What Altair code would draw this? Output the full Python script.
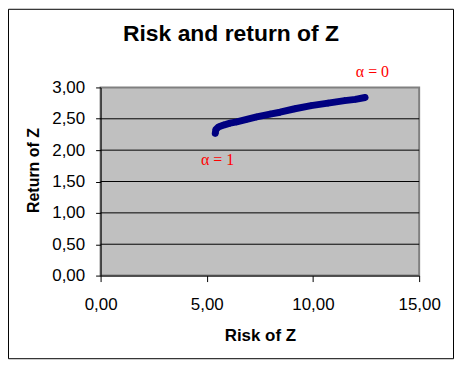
import altair as alt
import pandas as pd

# Curve: risk (x) and return (y) of Z
risk = [5.40, 5.43, 5.55, 5.79, 6.10, 6.41, 6.88, 7.35, 7.98, 8.45, 9.15, 9.91, 10.71, 11.49, 12.00, 12.45]
ret = [2.27, 2.33, 2.37, 2.40, 2.43, 2.45, 2.49, 2.53, 2.575, 2.605, 2.66, 2.71, 2.75, 2.79, 2.81, 2.84]

x_ticks = [0, 5, 10, 15]
y_ticks = [0, 0.5, 1.0, 1.5, 2.0, 2.5, 3.0]
grid_vals = [0.5, 1.0, 1.5, 2.0, 2.5]

ann_text = ["\u03b1 = 0", "\u03b1 = 1"]
ann_x = [12.8, 5.51]
ann_y = [3.24, 1.84]

df = pd.DataFrame({"risk": risk, "ret": ret})
grid_df = pd.DataFrame({"ret": grid_vals})
ann_df = pd.DataFrame({"t": ann_text, "risk": ann_x, "ret": ann_y})

label_expr = "replace(format(datum.value, '.2f'), '.', ',')"

xscale = alt.Scale(domain=[0, 15], nice=False, zero=False)
yscale = alt.Scale(domain=[0, 3], nice=False, zero=False)

xaxis = alt.Axis(values=x_ticks, labelExpr=label_expr, title="Risk of Z", grid=False,
                 tickSize=6, labelPadding=15, titleY=60, titleBaseline="middle",
                 titleFontSize=17, labelOverlap=False, labelFlush=False)
yaxis = alt.Axis(values=y_ticks, labelExpr=label_expr, title="Return of Z", grid=False,
                 tickSize=5, labelPadding=11, titleAngle=270, titleX=-67, titleY=83,
                 titleBaseline="middle", titleAlign="center", titleFontSize=16,
                 labelOverlap=False, labelFlush=False)

X = alt.X("risk:Q", scale=xscale, axis=xaxis)
Y = alt.Y("ret:Q", scale=yscale, axis=yaxis)

grid = alt.Chart(grid_df).mark_rule(color="black", strokeWidth=1).encode(y=Y)

line = alt.Chart(df).mark_line(color="#000080", strokeWidth=7, strokeCap="round",
                               strokeJoin="round").encode(x=X, y=Y)

pts = alt.Chart(df).mark_point(shape="diamond", filled=True, color="#000080", size=50,
                               opacity=1).encode(x=X, y=Y)

ann = alt.Chart(ann_df).mark_text(color="#FF0000", font="Liberation Serif", fontSize=16,
                                  baseline="middle", align="center").encode(
    x=X, y=Y, text="t:N",
)

title = alt.Chart(alt.Data(values=[{"t": "Risk and return of Z"}])).mark_text(
    font="Liberation Sans", fontSize=23, fontWeight="bold", color="black",
    baseline="middle", align="center"
).encode(x=alt.value(131), y=alt.value(-54), text="t:N")

border = alt.Chart(alt.Data(values=[{"a": 1}])).mark_rect(
    filled=False, stroke="black", strokeWidth=1
).encode(x=alt.value(-92.5), x2=alt.value(354.5), y=alt.value(-78.5), y2=alt.value(272.5))

chart = alt.layer(grid, line, pts, ann, title, border).properties(
    width=320, height=189,
    autosize=alt.AutoSizeParams(type="none"),
    padding={"left": 93, "top": 79, "right": 35, "bottom": 84},
    background="white",
).configure_view(
    fill="#C0C0C0", stroke="#808080", strokeWidth=2
).configure_axis(
    labelFont="Liberation Sans", labelFontSize=17, labelColor="black",
    titleFont="Liberation Sans", titleFontWeight="bold", titleColor="black",
    domainColor="black", domainWidth=1, tickColor="black", tickWidth=1,
    labelOverlap=False,
)

chart.save("out.html", embed_options={"renderer": "svg", "actions": False})
